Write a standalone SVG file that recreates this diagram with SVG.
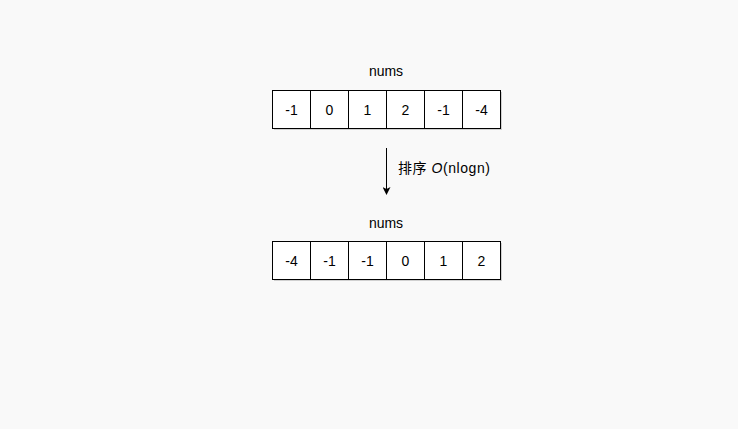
<svg xmlns="http://www.w3.org/2000/svg" width="738" height="429" viewBox="0 0 738 429">
<style>
.cell{fill:#ffffff;stroke:#000000;stroke-width:1}
.sh{fill:#d0d0d0}
.t{font-family:"Liberation Sans","Noto Sans CJK SC",sans-serif;font-size:14px;fill:#000;text-anchor:middle;dominant-baseline:central}
.lbl{font-family:"Liberation Sans","Noto Sans CJK SC",sans-serif;font-size:14px;fill:#000}
</style>
<defs>
<marker id="ah" markerWidth="8" markerHeight="8" refX="7" refY="4" orient="auto" markerUnits="userSpaceOnUse">
<path d="M0,0 L8,4 L0,8 L2,4 Z" fill="#000"/>
</marker>
</defs>
<rect width="738" height="429" fill="#f9f9f9"/>
<g id="top-title"><text class="t" x="386" y="71">nums</text></g>
<g id="top-array">
<rect class="sh" x="274" y="92" width="228" height="38"/>
<rect class="cell" x="272.5" y="90.5" width="38" height="38"/><text class="t" x="291.5" y="110">-1</text>
<rect class="cell" x="310.5" y="90.5" width="38" height="38"/><text class="t" x="329.5" y="110">0</text>
<rect class="cell" x="348.5" y="90.5" width="38" height="38"/><text class="t" x="367.5" y="110">1</text>
<rect class="cell" x="386.5" y="90.5" width="38" height="38"/><text class="t" x="405.5" y="110">2</text>
<rect class="cell" x="424.5" y="90.5" width="38" height="38"/><text class="t" x="443.5" y="110">-1</text>
<rect class="cell" x="462.5" y="90.5" width="38" height="38"/><text class="t" x="481.5" y="110">-4</text>
</g>
<g id="connectors">
<line x1="386.5" y1="148" x2="386.5" y2="194" stroke="#000" stroke-width="1" marker-end="url(#ah)"/>
<text class="lbl" x="398" y="173" textLength="92" lengthAdjust="spacing">排序 <tspan font-style="italic">O</tspan>(nlogn)</text>
</g>
<g id="bottom-title"><text class="t" x="386" y="223">nums</text></g>
<g id="bottom-array">
<rect class="sh" x="274" y="243" width="228" height="38"/>
<rect class="cell" x="272.5" y="241.5" width="38" height="38"/><text class="t" x="291.5" y="261">-4</text>
<rect class="cell" x="310.5" y="241.5" width="38" height="38"/><text class="t" x="329.5" y="261">-1</text>
<rect class="cell" x="348.5" y="241.5" width="38" height="38"/><text class="t" x="367.5" y="261">-1</text>
<rect class="cell" x="386.5" y="241.5" width="38" height="38"/><text class="t" x="405.5" y="261">0</text>
<rect class="cell" x="424.5" y="241.5" width="38" height="38"/><text class="t" x="443.5" y="261">1</text>
<rect class="cell" x="462.5" y="241.5" width="38" height="38"/><text class="t" x="481.5" y="261">2</text>
</g>
</svg>
